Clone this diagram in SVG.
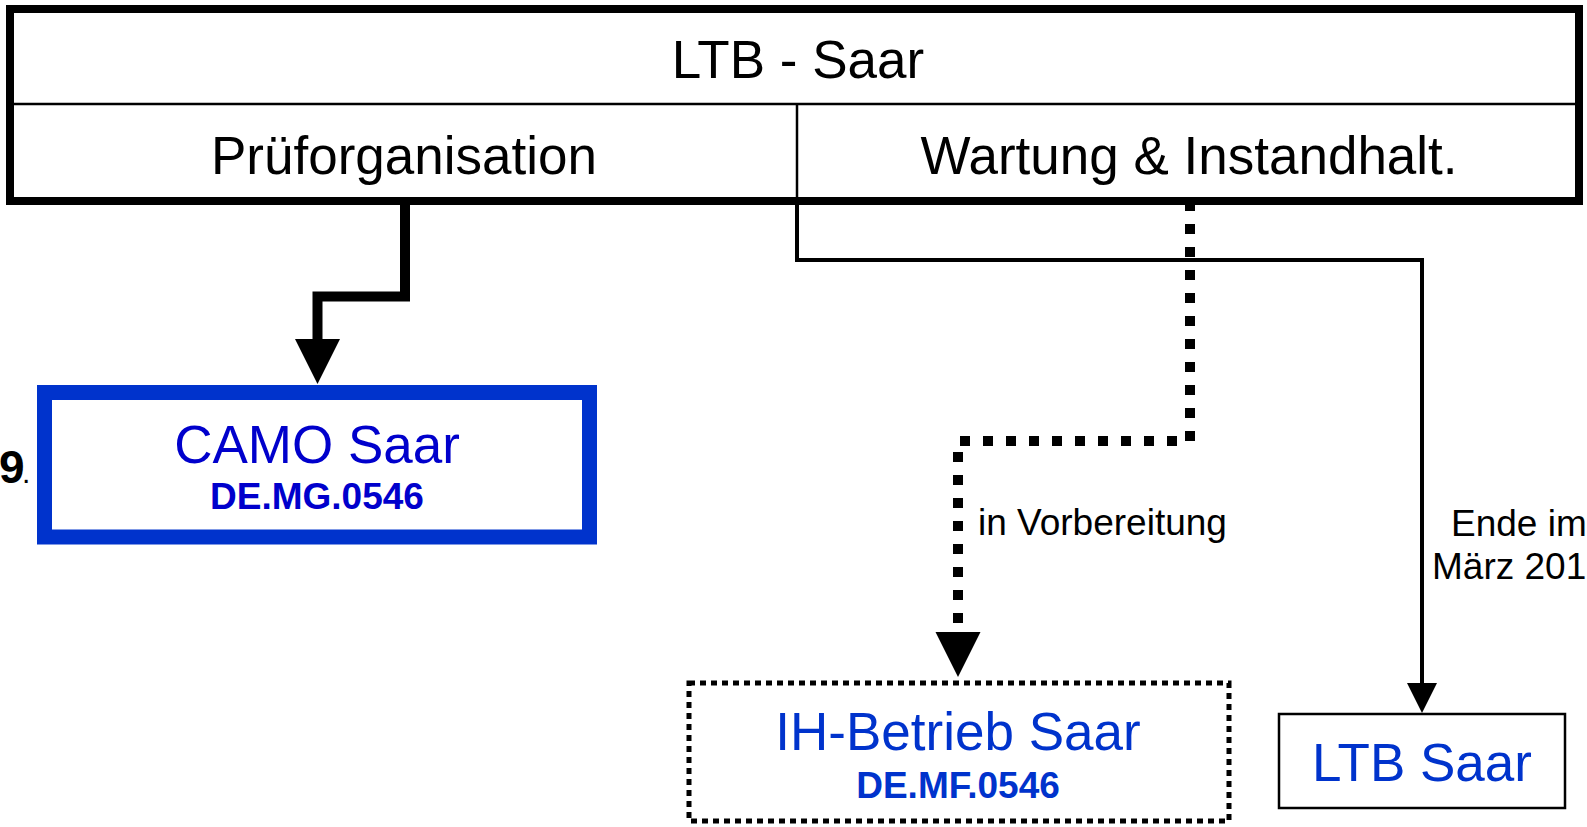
<svg xmlns="http://www.w3.org/2000/svg" width="1587" height="827" viewBox="0 0 1587 827">
<style>
text{font-family:"Liberation Sans",Arial,sans-serif}
.hdr{font-size:53px;fill:#000;text-anchor:middle}
.lbl{font-size:37px;fill:#000}
.name{font-size:53px;text-anchor:middle;fill:#0033cc}
.code{font-size:37px;font-weight:bold;text-anchor:middle;fill:#0033cc}
.thick{fill:none;stroke:#000;stroke-width:10}
.dots{fill:none;stroke:#000;stroke-width:10;stroke-dasharray:10 13}
.thin{fill:none;stroke:#000;stroke-width:4}
</style>
<defs>
<marker id="arrBig" markerUnits="userSpaceOnUse" markerWidth="46" markerHeight="46" refX="0" refY="22.5" orient="auto" overflow="visible">
<path d="M0,0 L45,22.5 L0,45 Z" fill="#000"/>
</marker>
<marker id="arrSmall" markerUnits="userSpaceOnUse" markerWidth="31" markerHeight="31" refX="0" refY="15" orient="auto" overflow="visible">
<path d="M0,0 L30,15 L0,30 Z" fill="#000"/>
</marker>
</defs>
<rect width="1587" height="827" fill="#fff"/>

<g id="ltb-saar">
<rect x="10" y="9" width="1569" height="192" fill="#fff" stroke="#000" stroke-width="8"/>
<line x1="14" y1="104" x2="1575" y2="104" stroke="#000" stroke-width="2.5"/>
<line x1="797" y1="104" x2="797" y2="197" stroke="#000" stroke-width="2.5"/>
<text class="hdr" x="798" y="78">LTB - Saar</text>
<g id="prueforganisation">
<text class="hdr" x="404" y="174">Prüforganisation</text>
</g>
<g id="wartung">
<text class="hdr" x="1189" y="174">Wartung &amp; Instandhalt.</text>
</g>
</g>

<g id="connectors">
<path class="thick" d="M405,201 V296.5 H317.5 V339" marker-end="url(#arrBig)"/>
<path class="dots" d="M1190,201 V441 H958 V632" marker-end="url(#arrBig)"/>
<path class="thin" d="M797,201 V260 H1422 V683" marker-end="url(#arrSmall)"/>
<text class="lbl" x="978" y="535">in Vorbereitung</text>
<text class="lbl" x="1451" y="536">Ende im</text>
<text class="lbl" x="1432" y="579">März 201</text>
</g>

<g id="camo-saar">
<rect x="44.5" y="392.5" width="545" height="144.5" fill="#fff" stroke="#0033cc" stroke-width="15"/>
<text class="name" x="317" y="463" style="fill:#0000cc">CAMO Saar</text>
<text class="code" x="317" y="509" style="fill:#0000cc">DE.MG.0546</text>
</g>

<g id="side-note">
<text x="-1" y="483" style="font-size:46px;font-weight:bold;fill:#000">9</text>
<text x="22" y="483" style="font-size:30px;fill:#000">.</text>
</g>

<g id="ih-betrieb-saar">
<rect x="689" y="683" width="540" height="138" fill="#fff" stroke="#000" stroke-width="5" stroke-dasharray="6 5"/>
<text class="name" x="958" y="750">IH-Betrieb Saar</text>
<text class="code" x="958" y="798">DE.MF.0546</text>
</g>

<g id="ltb-saar-node">
<rect x="1279" y="714" width="286" height="94" fill="#fff" stroke="#000" stroke-width="2.5"/>
<text class="name" x="1422" y="781">LTB Saar</text>
</g>
</svg>
